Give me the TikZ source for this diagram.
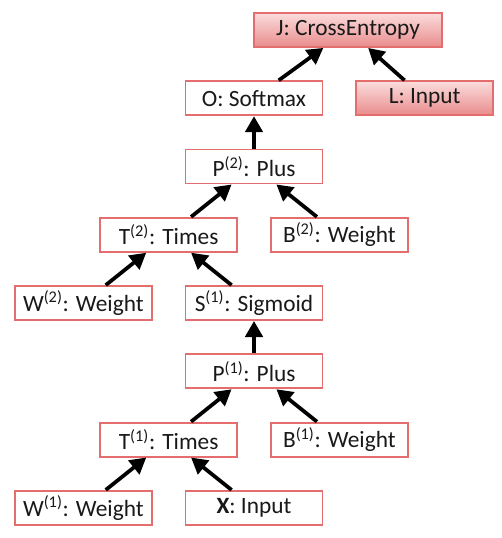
\documentclass[tikz,border=0pt]{standalone}
\usepackage{fontspec}
\setmainfont{Carlito}
\usetikzlibrary{shapes,arrows.meta,positioning}
\definecolor{boxline}{RGB}{228,110,110}
\definecolor{boxtop}{RGB}{251,220,220}
\definecolor{boxbottom}{RGB}{233,140,140}
\definecolor{boxtext}{RGB}{25,25,25}
\tikzset{basic/.style={rectangle,draw=boxline,line width=1.4pt,text=boxtext,font=\fontsize{17.5}{20}\selectfont,minimum width=102.75pt,minimum height=25.5pt,inner sep=2pt}}
\tikzset{op/.style={basic,fill=white}}
\tikzset{goal/.style={basic,top color=boxtop,bottom color=boxbottom}}
\tikzset{arrow/.style={draw,line width=2.8pt,-{Triangle[length=12pt,width=13pt]}}}

\begin{document}
\begin{tikzpicture}[node distance=51.2pt and 64pt,on grid]
    \useasboundingbox (0,0) rectangle (375.75pt,-403.5pt);

    \node[goal,minimum width=141pt] (j) at (261pt,-22.5pt) {J: CrossEntropy};
    \node[op,below left=51.2pt and 70.5pt of j] (o) {O: Softmax};
    \node[goal,below right=51.2pt and 57.5pt of j] (l) {L: Input};

    \node[op,below=of o] (p2) {P\textsuperscript{(2)}: Plus};
    \node[op,below left=of p2] (t2) {T\textsuperscript{(2)}: Times};
    \node[op,below right=of p2] (b2) {B\textsuperscript{(2)}: Weight};
    \node[op,below left=of t2] (w2) {W\textsuperscript{(2)}: Weight};
    \node[op,below right=of t2] (s1) {S\textsuperscript{(1)}: Sigmoid};

    \node[op,below=of s1] (p1) {P\textsuperscript{(1)}: Plus};
    \node[op,below left=of p1] (t1) {T\textsuperscript{(1)}: Times};
    \node[op,below right=of p1] (b1) {B\textsuperscript{(1)}: Weight};
    \node[op,below left=of t1] (w1) {W\textsuperscript{(1)}: Weight};
    \node[op,below right=of t1] (x) {\textbf{X}: Input};

        \path[arrow] (o) -- (j);
        \path[arrow] (l) -- (j);
        \path[arrow] (p2) -- (o);
        \path[arrow] (t2) -- (p2);
        \path[arrow] (b2) -- (p2);
        \path[arrow] (w2) -- (t2);
        \path[arrow] (s1) -- (t2);
        \path[arrow] (p1) -- (s1);
        \path[arrow] (t1) -- (p1);
        \path[arrow] (b1) -- (p1);
        \path[arrow] (w1) -- (t1);
        \path[arrow] (x) -- (t1);
\end{tikzpicture}
\end{document}
